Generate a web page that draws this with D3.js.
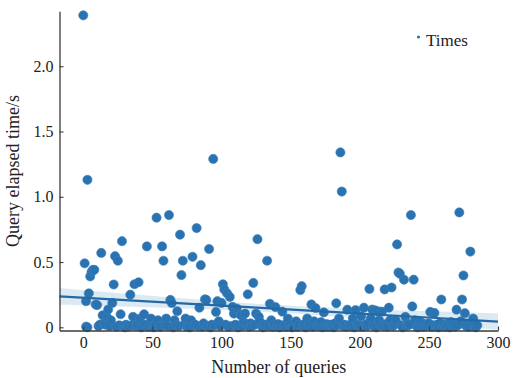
<!DOCTYPE html>
<html>
<head>
<meta charset="utf-8">
<script src="https://cdn.jsdelivr.net/npm/d3@7"></script>
<style>
  html, body { margin: 0; padding: 0; background: #fff; }
  svg { display: block; }
  text { font-family: "Liberation Serif", "Times New Roman", serif; fill: #222; }
</style>
</head>
<body>
<svg id="chart" width="514" height="378"></svg>
<script>
// Elapsed time (s) of each query; array index = query number
const times = [
  2.39, 0.49, 0.20, 1.13, 0.26, 0.39, 0.425, 0.44, 0.44, 0.174,
  0.17, 0.01, 0.02, 0.57, 0.092, 0.03, 0.02, 0.08, 0.136, 0.01,
  0.054, 0.187, 0.328, 0.545, 0.005, 0.51, 0.015, 0.10, 0.66, 0.01,
  0.0, 0.02, 0.005, 0.01, 0.25, 0.015, 0.08, 0.33, 0.01, 0.02,
  0.345, 0.067, 0.0, 0.01, 0.10, 0.02, 0.62, 0.005, 0.015, 0.067,
  0.01, 0.0, 0.02, 0.84, 0.054, 0.01, 0.005, 0.62, 0.51, 0.02,
  0.067, 0.01, 0.86, 0.21, 0.187, 0.0, 0.054, 0.015, 0.123, 0.01,
  0.71, 0.40, 0.51, 0.02, 0.067, 0.005, 0.01, 0.0, 0.054, 0.54,
  0.015, 0.02, 0.76, 0.01, 0.15, 0.476, 0.005, 0.03, 0.215, 0.21,
  0.01, 0.60, 0.0, 0.02, 1.29, 0.015, 0.118, 0.20, 0.046, 0.01,
  0.187, 0.33, 0.29, 0.02, 0.26, 0.005, 0.233, 0.01, 0.156, 0.105,
  0.02, 0.144, 0.0, 0.015, 0.092, 0.01, 0.04, 0.105, 0.025, 0.253,
  0.005, 0.03, 0.01, 0.34, 0.02, 0.105, 0.675, 0.08, 0.04, 0.01,
  0.0, 0.015, 0.02, 0.51, 0.01, 0.18, 0.054, 0.005, 0.02, 0.155,
  0.01, 0.025, 0.0, 0.015, 0.12, 0.01, 0.02, 0.005, 0.067, 0.01,
  0.02, 0.0, 0.015, 0.01, 0.046, 0.005, 0.02, 0.285, 0.315, 0.01,
  0.025, 0.0, 0.067, 0.01, 0.02, 0.175, 0.005, 0.046, 0.148, 0.015,
  0.01, 0.02, 0.04, 0.0, 0.114, 0.01, 0.025, 0.005, 0.015, 0.02,
  0.01, 0.0, 0.03, 0.184, 0.015, 0.067, 1.34, 1.04, 0.01, 0.02,
  0.005, 0.135, 0.015, 0.01, 0.025, 0.067, 0.0, 0.132, 0.02, 0.01,
  0.015, 0.084, 0.005, 0.15, 0.02, 0.01, 0.03, 0.294, 0.067, 0.136,
  0.01, 0.13, 0.0, 0.123, 0.054, 0.02, 0.12, 0.01, 0.29, 0.025,
  0.005, 0.15, 0.054, 0.305, 0.01, 0.02, 0.054, 0.635, 0.42, 0.41,
  0.015, 0.0, 0.365, 0.08, 0.01, 0.025, 0.02, 0.86, 0.16, 0.365,
  0.054, 0.01, 0.0, 0.02, 0.04, 0.015, 0.005, 0.025, 0.01, 0.02,
  0.03, 0.118, 0.005, 0.015, 0.11, 0.01, 0.02, 0.0, 0.03, 0.213,
  0.01, 0.02, 0.005, 0.015, 0.025, 0.0, 0.04, 0.01, 0.02, 0.005,
  0.135, 0.015, 0.88, 0.046, 0.213, 0.397, 0.108, 0.01, 0.02, 0.005,
  0.58, 0.023, 0.067, 0.01, 0.0, 0.015
];
// a few additional repeated queries near the origin
const extraQueries = [2, 3];
const extraTimes = [0.005, 0.0];

const xTicks = [0, 50, 100, 150, 200, 250, 300];
const yTicks = [0, 0.5, 1.0, 1.5, 2.0];
const yTickLabels = ["0", "0.5", "1.0", "1.5", "2.0"];
const xDomain = [-17.2, 300];
const yDomain = [-0.0245, 2.421];
const seriesName = "Times";
const xTitle = "Number of queries";
const yTitle = "Query elapsed time/s";

const points = times.map((t, i) => ({ x: i, y: t }))
  .concat(extraQueries.map((q, i) => ({ x: q, y: extraTimes[i] })));

const W = 514, H = 378;
const m = { left: 59.5, right: 16, top: 11.3, bottom: 47.5 };
const svg = d3.select("#chart");
const x = d3.scaleLinear().domain(xDomain).range([m.left, W - m.right]);
const y = d3.scaleLinear().domain(yDomain).range([H - m.bottom, m.top]);

const blue = "#2a73b0";

// OLS regression + 95% CI
const n = points.length;
const mx = d3.mean(points, d => d.x), my = d3.mean(points, d => d.y);
const sxx = d3.sum(points, d => (d.x - mx) ** 2);
const sxy = d3.sum(points, d => (d.x - mx) * (d.y - my));
const b = sxy / sxx, a = my - b * mx;
const s = Math.sqrt(d3.sum(points, d => (d.y - (a + b * d.x)) ** 2) / (n - 2));
const tval = 1.968;
const grid = d3.range(0, 101).map(k => xDomain[0] + (xDomain[1] - xDomain[0]) * k / 100);
const fit = grid.map(gx => {
  const yh = a + b * gx;
  const hw = tval * s * Math.sqrt(1 / n + (gx - mx) ** 2 / sxx);
  return { x: gx, y: yh, lo: yh - hw, hi: yh + hw };
});

// points
svg.append("g").selectAll("circle").data(points).join("circle")
  .attr("cx", d => x(d.x)).attr("cy", d => y(d.y)).attr("r", 4.6)
  .attr("fill", blue).attr("stroke", "#3a82be").attr("stroke-width", 0.6);

// CI band
svg.append("path").datum(fit)
  .attr("d", d3.area().x(d => x(d.x)).y0(d => y(d.lo)).y1(d => y(d.hi)))
  .attr("fill", "rgba(31,119,180,0.16)");
// fit line
svg.append("path").datum(fit)
  .attr("d", d3.line().x(d => x(d.x)).y(d => y(d.y)))
  .attr("fill", "none").attr("stroke", "#2468a5").attr("stroke-width", 2.2);

// axes
const xAxis = svg.append("g").attr("transform", `translate(0,${H - m.bottom})`)
  .call(d3.axisBottom(x).tickValues(xTicks).tickSize(-4).tickPadding(6).tickSizeOuter(0));
const yAxis = svg.append("g").attr("transform", `translate(${m.left},0)`)
  .call(d3.axisLeft(y).tickValues(yTicks).tickFormat((d, i) => yTickLabels[i]).tickSize(-4).tickPadding(6).tickSizeOuter(0));
[xAxis, yAxis].forEach(g => {
  g.select(".domain").attr("stroke", "#3a3a3a").attr("stroke-width", 1.3);
  g.selectAll(".tick line").attr("stroke", "#3a3a3a").attr("stroke-width", 1.1);
  g.selectAll(".tick text").attr("font-family", "Liberation Serif, serif").attr("font-size", 16).attr("fill", "#222");
});

// titles
svg.append("text").attr("x", (m.left + W - m.right) / 2).attr("y", 373)
  .attr("text-anchor", "middle").attr("font-size", 18).text(xTitle);
svg.append("text").attr("transform", `translate(19,${(m.top + H - m.bottom) / 2}) rotate(-90)`)
  .attr("text-anchor", "middle").attr("font-size", 18).text(yTitle);

// legend
svg.append("circle").attr("cx", 418.5).attr("cy", 37).attr("r", 1.6).attr("fill", blue);
svg.append("text").attr("x", 426).attr("y", 46).attr("font-size", 17).text(seriesName);
</script>
</body>
</html>
